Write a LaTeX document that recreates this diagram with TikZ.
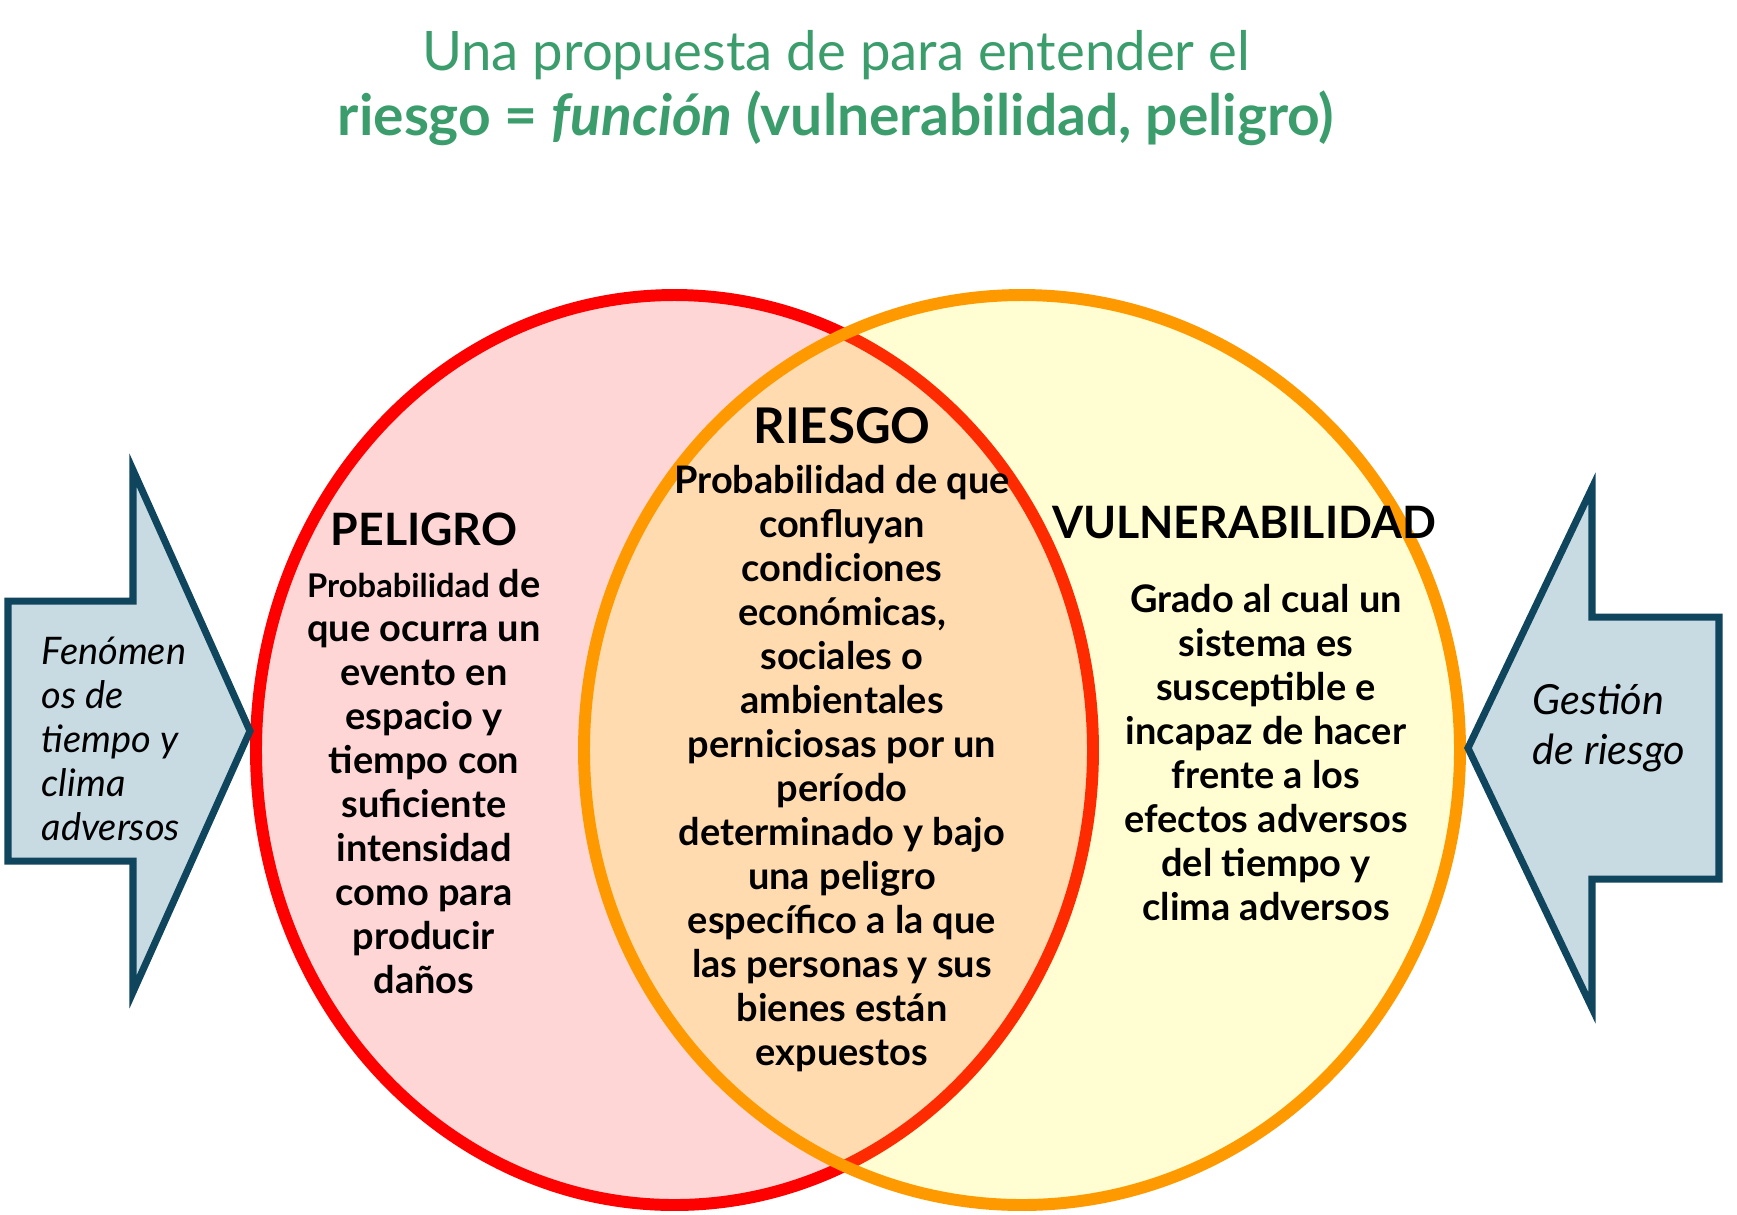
\documentclass[tikz,border=0pt]{standalone}
\usepackage{fontspec}
\setmainfont{Lato}
\usetikzlibrary{positioning}
\definecolor{titlegreen}{HTML}{3B9C6C}
\definecolor{arrowline}{HTML}{10455E}
\definecolor{arrowfill}{HTML}{C8DAE2}
\definecolor{ringorange}{HTML}{FF9900}

\begin{document}
\begin{tikzpicture}[
  headline/.style={font=\fontsize{15.5}{18}\selectfont, text=titlegreen, inner sep=0pt, anchor=base},
  heading/.style={font=\fontsize{12.7}{15}\selectfont\bfseries, inner sep=0pt, anchor=base},
  body/.style={font=\fontsize{10.8}{12.5}\selectfont\bfseries, align=center, inner sep=0pt},
  sidetext/.style={font=\fontsize{10.8}{12.5}\selectfont\itshape, align=left, inner sep=0pt, anchor=base west},
  blockarrow/.style={draw=arrowline, fill=arrowfill, line width=2pt, line join=miter},
  ring/.style={line width=3.4pt}
]
\useasboundingbox (0,0) rectangle (17.37,-12.14);
\draw[ring, red, fill=red!16] (6.745,-7.50) ellipse [x radius=4.185cm, y radius=4.55cm];
\fill[yellow, fill opacity=0.18] (10.22,-7.50) ellipse [x radius=4.38cm, y radius=4.55cm];
\draw[ring, ringorange] (10.22,-7.50) ellipse [x radius=4.38cm, y radius=4.55cm];
\draw[blockarrow] (0.08,-6.01) -- (1.33,-6.01) -- (1.33,-4.70) -- (2.50,-7.31)
  -- (1.33,-9.92) -- (1.33,-8.61) -- (0.08,-8.61) -- cycle;
\draw[blockarrow] (17.19,-6.17) -- (15.92,-6.17) -- (15.92,-4.88) -- (14.68,-7.48)
  -- (15.92,-10.08) -- (15.92,-8.79) -- (17.19,-8.79) -- cycle;

\node[headline] (title1) at (8.36,-0.70) {Una propuesta de para entender el};
\node[headline, font=\fontsize{16.2}{18}\selectfont, below=0.65cm of title1.base, anchor=base] (title2)
  {\bfseries riesgo = \textit{función} (vulnerabilidad, peligro)};

\node[heading] (peligro) at (4.24,-5.45) {PELIGRO};
\node[body, below=4.48cm of peligro.base, anchor=base] (peligrotext) {
  {\fontsize{9.3}{12.5}\selectfont Probabilidad} de\\
  que ocurra un\\ evento en\\ espacio y\\ tiempo con\\ suficiente\\
  intensidad\\ como para\\ producir\\ daños
};
\node[heading, font=\fontsize{14}{16}\selectfont\bfseries] (riesgo) at (8.42,-4.43) {RIESGO};
\node[body, below=6.22cm of riesgo.base, anchor=base] (riesgotext) {
  Probabilidad de que\\ confluyan\\ condiciones\\ económicas,\\ sociales o\\
  ambientales\\ perniciosas por un\\ período\\ determinado y bajo\\ una peligro\\
  específico a la que\\ las personas y sus\\ bienes están\\ expuestos
};
\node[heading] (vulnerabilidad) at (12.44,-5.38) {VULNERABILIDAD};
\node[body, below=3.82cm of vulnerabilidad.base, anchor=base, xshift=0.22cm] (vulnerabilidadtext) {
  Grado al cual un\\ sistema es\\ susceptible e\\ incapaz de hacer\\ frente a los\\
  efectos adversos\\ del tiempo y\\ clima adversos
};

\node[sidetext] (fenomenos) at (0.41,-8.40) {Fenómen\\ os de\\ tiempo y\\ clima\\ adversos};
\node[sidetext, font=\fontsize{11.8}{14.2}\selectfont\itshape] (gestion) at (15.32,-7.64) {Gestión\\ de riesgo};
\end{tikzpicture}
\end{document}
